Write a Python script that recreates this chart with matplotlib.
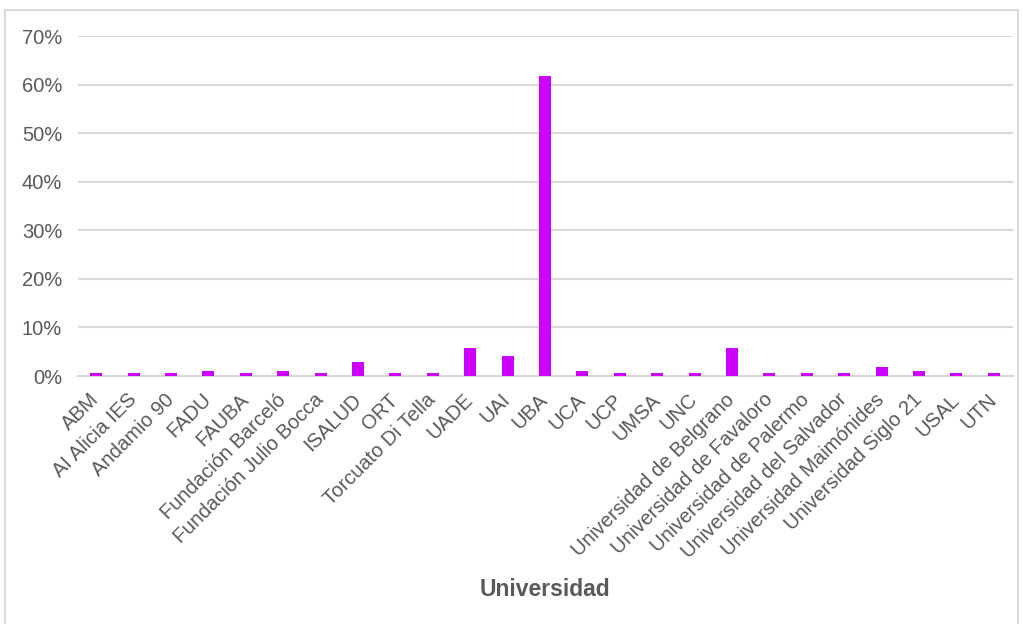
import matplotlib.pyplot as plt
from matplotlib.patches import Rectangle
from matplotlib.ticker import FuncFormatter

UNIVERSIDADES = [
    "ABM", "AI Alicia IES", "Andamio 90", "FADU", "FAUBA", "Fundación Barceló",
    "Fundación Julio Bocca", "ISALUD", "ORT", "Torcuato Di Tella", "UADE", "UAI",
    "UBA", "UCA", "UCP", "UMSA", "UNC", "Universidad de Belgrano",
    "Universidad de Favaloro", "Universidad de Palermo", "Universidad del Salvador",
    "Universidad Maimónides", "Universidad Siglo 21", "USAL", "UTN",
]

PORCENTAJES = [
    0.55, 0.55, 0.55, 1.1, 0.55, 1.1,
    0.55, 2.8, 0.55, 0.55, 5.8, 4.2,
    61.8, 1.1, 0.55, 0.55, 0.55, 5.8,
    0.55, 0.55, 0.55, 1.9, 1.1, 0.55, 0.55,
]

BAR_COLOR = "#CC00FF"
GRID_COLOR = "#D9D9D9"
TEXT_COLOR = "#595959"

plt.rcParams["font.family"] = ["Liberation Sans", "DejaVu Sans"]

W, H = 1023, 624
fig = plt.figure(figsize=(W / 100, H / 100), dpi=100)
ax = fig.add_axes([77.5 / W, (H - 376) / H, 935 / W, 340 / H])

x = list(range(len(UNIVERSIDADES)))
ax.bar(x, PORCENTAJES, width=0.32, color=BAR_COLOR, zorder=3)

ax.set_xlim(-0.5, len(x) - 0.5)
ax.set_ylim(0, 70)
ax.set_yticks(range(0, 71, 10))
ax.yaxis.set_major_formatter(FuncFormatter(lambda v, p: f"{v:.0f}%"))
ax.grid(axis="y", color=GRID_COLOR, linewidth=1.5, zorder=0)
for s in ["top", "right", "left"]:
    ax.spines[s].set_visible(False)
ax.spines["bottom"].set_color(GRID_COLOR)
ax.spines["bottom"].set_linewidth(1.5)
ax.tick_params(axis="both", length=0, labelsize=14.5, colors=TEXT_COLOR)
ax.tick_params(axis="y", pad=11)

ax.set_xticks(x)
ax.set_xticklabels(UNIVERSIDADES, rotation=45, ha="right", va="center",
                   rotation_mode="anchor")
ax.tick_params(axis="x", pad=15)

fig.text(545 / W, (H - 589) / H, "Universidad", ha="center", va="center",
         fontsize=16.5, fontweight="bold", color=TEXT_COLOR)

# marco gris alrededor del gráfico
fig.patches.append(Rectangle((5 / W, -0.05), 1013 / W, 1.05 - 10 / H,
                             transform=fig.transFigure, fill=False,
                             edgecolor=GRID_COLOR, linewidth=1.5))

fig.savefig("out.png", dpi=100)
